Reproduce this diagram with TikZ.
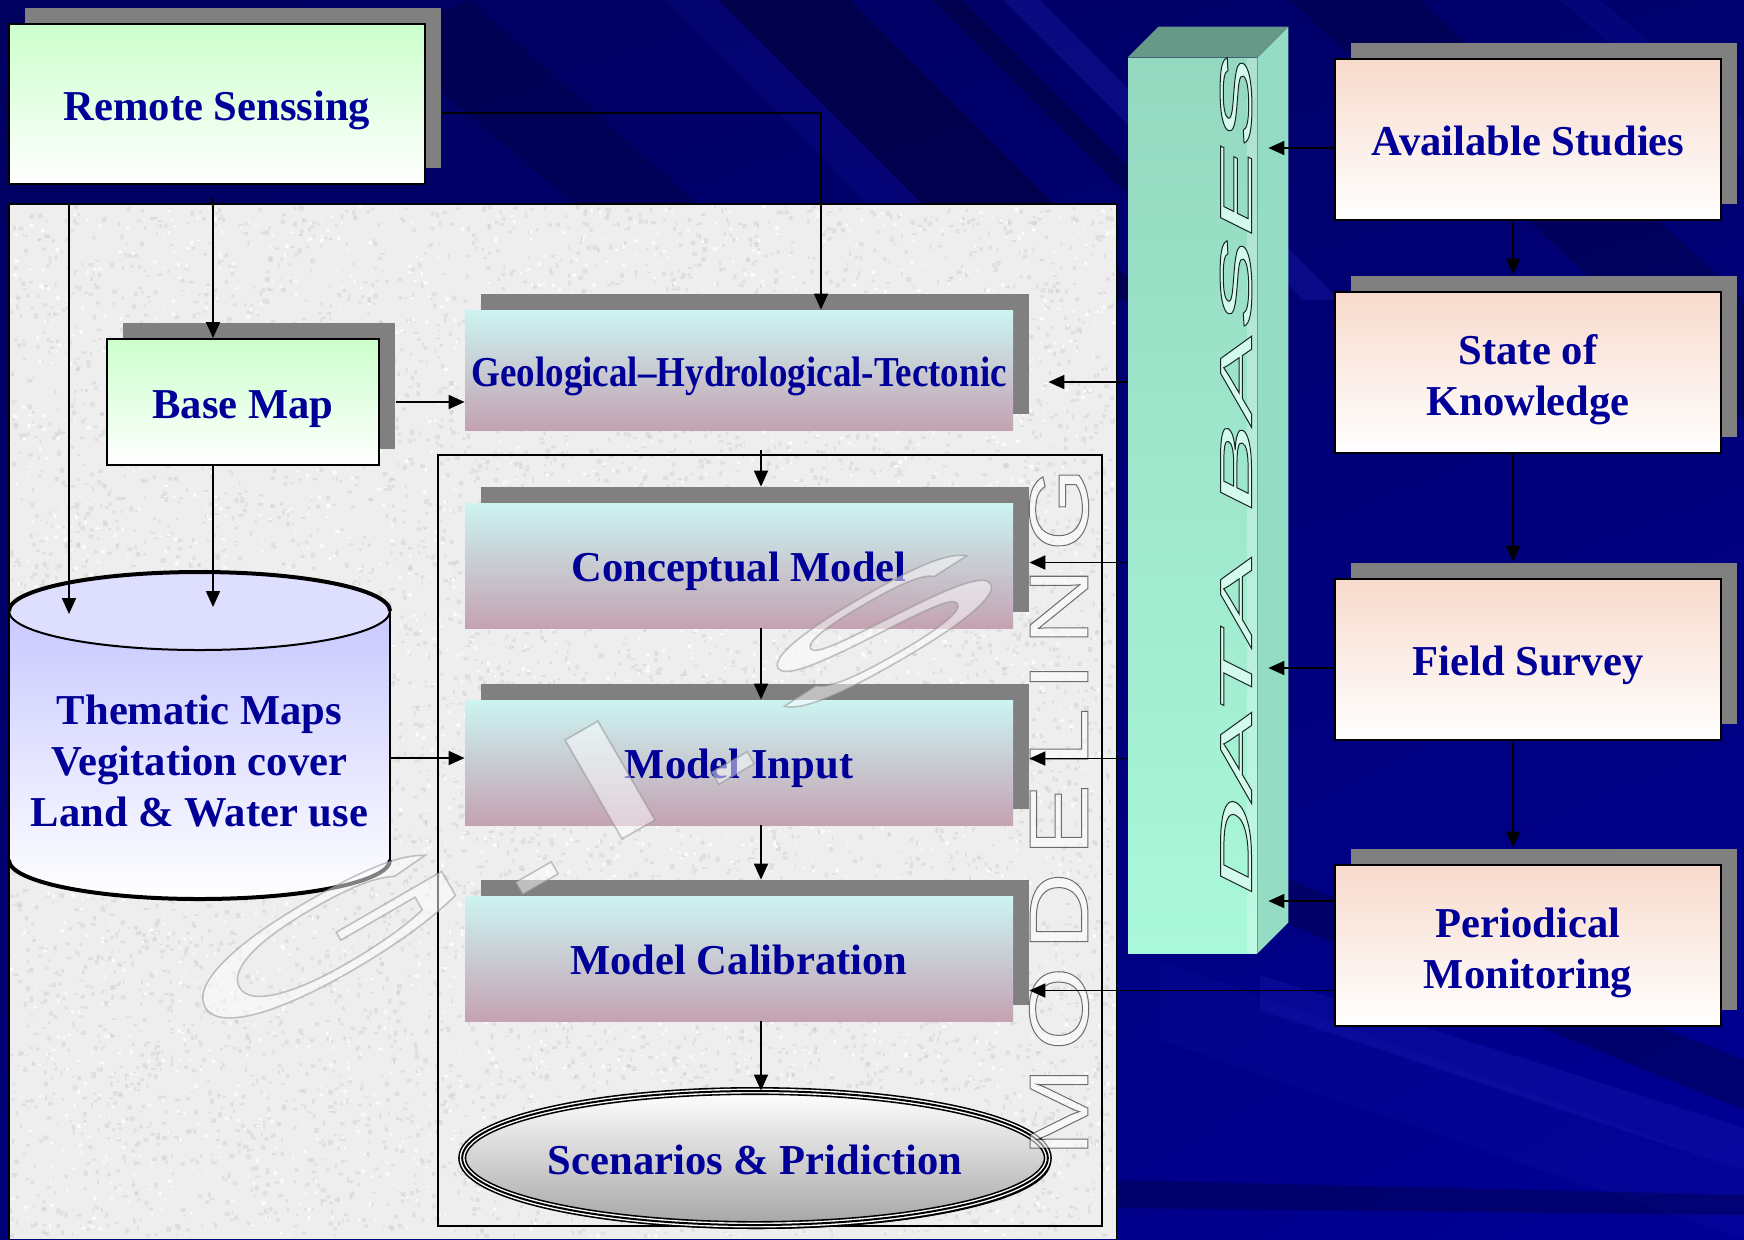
\documentclass[tikz,border=0pt]{standalone}
\usepackage{fontspec}
\setmainfont{Liberation Serif}
\newfontfamily\dbfont{Liberation Sans}[FakeSlant=0.5,FakeStretch=3.05]
\newfontfamily\modfont{Liberation Sans}[FakeStretch=1.29]
\newfontfamily\gisGfont{Liberation Sans}[FakeStretch=3.6]
\newfontfamily\gisIfont{Liberation Sans}[FakeStretch=2.45]
\newfontfamily\gisSfont{Liberation Sans}[FakeStretch=4.0]
\newfontfamily\gisDotfont{Liberation Sans}[FakeStretch=3.3]
\usetikzlibrary{arrows.meta,calc,shadows,shadings,shapes.geometric}

% glyphs filled with the current colour and stroked with colour #1 (rgb) at width #2 (bp)
\newcommand\strokeglyphs[3]{\special{pdf:literal direct #2 w #1 RG 2 Tr}#3\special{pdf:literal direct 0 Tr}}
% two or three centred lines, first line given extra head room
\newcommand\stacklines[1]{\begin{tabular}{@{}c@{}}\rule{0pt}{25.2pt}#1\end{tabular}}

\definecolor{bgUL}{RGB}{0,0,95}
\definecolor{bgUR}{RGB}{0,0,110}
\definecolor{bgLL}{RGB}{0,0,120}
\definecolor{bgLR}{RGB}{0,0,150}
\definecolor{bgdark}{RGB}{0,0,50}
\definecolor{bglight}{RGB}{40,40,200}
\definecolor{txtblue}{RGB}{0,0,153}
\definecolor{shgray}{RGB}{128,128,128}
\definecolor{greentop}{RGB}{204,255,204}
\definecolor{peachtop}{RGB}{248,218,204}
\definecolor{tealtop}{RGB}{204,244,242}
\definecolor{mauvebot}{RGB}{196,162,178}
\definecolor{lavtop}{RGB}{200,200,255}
\definecolor{lavcap}{RGB}{222,222,255}
\definecolor{dbtopface}{RGB}{102,153,136}
\definecolor{dbfront1}{RGB}{148,216,192}
\definecolor{dbfront2}{RGB}{170,248,218}
\definecolor{dbsideface}{RGB}{148,220,196}
\definecolor{dbletter}{RGB}{212,250,238}
\definecolor{panelgray}{RGB}{238,238,238}

\tikzset{
  lbl/.style={text=txtblue, font=\fontsize{21.3}{25.5}\selectfont\bfseries, inner sep=0pt,
              text height=16pt, text depth=0pt},
  lblstack/.style={text=txtblue, font=\fontsize{21.3}{25.5}\selectfont\bfseries, inner sep=0pt},
  boxshadow/.style={general shadow={fill=shgray, shadow xshift=8pt, shadow yshift=8pt}},
  greenbox/.style={boxshadow, draw=black, line width=1pt, top color=greentop, bottom color=white},
  peachbox/.style={boxshadow, draw=black, line width=1pt, top color=peachtop, bottom color=white,
                   minimum width=193pt, minimum height=80.5pt},
  tealbox/.style={lbl, boxshadow, top color=tealtop, bottom color=mauvebot,
                  minimum width=274pt, minimum height=62.5pt},
  arr/.style={line width=0.9pt, -{Triangle[length=8pt,width=7pt]}},
  wordart/.style={inner sep=0pt},
}

\begin{document}
\begin{tikzpicture}[x=0.5pt,y=-0.5pt]
\useasboundingbox (0,0) rectangle (1744,1239);

% ---------- background ----------
\shade[upper left=bgUL, upper right=bgUR, lower left=bgLL, lower right=bgLR] (0,0) rectangle (1744,1239);
\fill[bgdark, opacity=0.5] (718,0) -- (850,0) -- (1150,300) -- (1018,300) -- cycle;
\fill[bgdark, opacity=0.45] (932,0) -- (962,0) -- (1262,300) -- (1232,300) -- cycle;
\fill[bglight, opacity=0.25] (1003,0) -- (1040,0) -- (1340,300) -- (1303,300) -- cycle;
\fill[bglight, opacity=0.12] (664,0) -- (718,0) -- (1018,300) -- (964,300) -- cycle;
\fill[bgdark, opacity=0.3] (380,40) -- (470,0) -- (760,260) -- (640,260) -- cycle;
\fill[bgdark, opacity=0.35] (1290,0) -- (1420,0) -- (1744,300) -- (1744,420) -- cycle;
\fill[bglight, opacity=0.15] (1560,0) -- (1600,0) -- (1744,120) -- (1744,160) -- cycle;
\fill[bgdark, opacity=0.35] (1130,860) -- (1290,880) -- (1744,1060) -- (1744,1110) -- cycle;
\fill[bglight, opacity=0.22] (1260,975) -- (1744,1128) -- (1744,1170) -- (1260,1010) -- cycle;
\fill[bglight, opacity=0.10] (1160,960) -- (1744,1170) -- (1744,1239) -- (1160,1040) -- cycle;
\fill[bgdark, opacity=0.35] (1116,1180) -- (1744,1195) -- (1744,1215) -- (1116,1208) -- cycle;

% ---------- textured panel ----------
\node[fill=panelgray, minimum width=553.5pt, minimum height=517.5pt, inner sep=0pt, anchor=north west]
  (panel) at (9,204) {};
\pgfmathsetseed{4242}
\foreach \chunk in {1,...,4}{
  \fill[black!25, opacity=0.3] \foreach \k in {1,...,1800}
    {({9+1103*rnd},{205+1030*rnd}) rectangle ++({1.5+3.5*rnd},{1.5+3.5*rnd})};
}
\foreach \chunk in {1,2}{
  \fill[white, opacity=0.8] \foreach \k in {1,...,1500}
    {({9+1103*rnd},{205+1030*rnd}) rectangle ++({1+3*rnd},{1+3*rnd})};
}
\draw[line width=1pt] (panel.south west) -- (panel.north west) -- (panel.north east);
\draw[line width=0.5pt] (panel.north east) -- (panel.south east);

% modelling frame
\node[draw, line width=0.8pt, minimum width=332pt, minimum height=385.5pt, inner sep=0pt, anchor=north west]
  (frame) at (437,454) {};

% ---------- boxes ----------
\node[lbl, greenbox, minimum width=208pt, minimum height=80pt] (rs) at (217,104) {Remote Senssing};
\node[lbl, greenbox, minimum width=136pt, minimum height=63pt] (bm) at (243,402) {Base Map};

\node[tealbox, minimum height=60pt] (geo) at (739,370)
  {\scalebox{0.87}[1]{Geological–Hydrological-Tectonic}};
\node[tealbox] (conc) at (739,565.5) {Conceptual Model};
\node[tealbox] (mi) at (739,762.5) {Model Input};
\node[tealbox] (mc) at (739,958.5) {Model Calibration};

\node[lbl, ellipse, minimum width=291pt, minimum height=67pt, top color=white, bottom color=black!35,
      general shadow={fill=black, shadow xshift=1.5pt, shadow yshift=-2pt},
      postaction={draw, line width=4pt},
      postaction={draw=white, line width=2.4pt},
      postaction={draw, line width=1pt}] (scen) at (755,1158) {Scenarios \& Pridiction};

% thematic maps cylinder
\fill[top color=lavtop, bottom color=white]
  (9,611) -- (9,860) arc[start angle=180, end angle=0, x radius=190.5, y radius=39] -- (390,611) -- cycle;
\draw[line width=1pt] (9,611) -- (9,860);
\draw[line width=1pt] (390,860) -- (390,611);
\draw[line width=2pt] (9,860) arc[start angle=180, end angle=0, x radius=190.5, y radius=39];
\filldraw[fill=lavcap, line width=1pt] (199.5,611) ellipse[x radius=190.5, y radius=39];
\draw[line width=2pt] (9,611) arc[start angle=180, end angle=360, x radius=190.5, y radius=39];
\node[lblstack, minimum width=190.5pt] (thm) at (199.5,758)
  {\stacklines{Thematic Maps\\Vegitation cover\\Land \& Water use}};

% data bases column
\node[minimum width=64.5pt, minimum height=447.5pt, inner sep=0pt, top color=dbfront1, bottom color=dbfront2]
  (db) at (1192.5,505.5) {};
\fill[dbsideface] (db.north east) -- ++(31,-31) -- ($(db.south east)+(31,-31)$) -- (db.south east) -- cycle;
\fill[dbtopface] (db.north west) -- ++(31,-31) -- ($(db.north east)+(31,-31)$) -- (db.north east) -- cycle;
\fill[white, opacity=0.25] ($(db.north east)+(-10,0)$) rectangle (db.south east);

% right column
\node[lbl, peachbox] (as) at (1528,139) {Available Studies};
\node[lblstack, peachbox] (sk) at (1528,372) {\stacklines{State of\\Knowledge}};
\node[lbl, peachbox] (fs) at (1528,659) {Field Survey};
\node[lblstack, peachbox] (pm) at (1528,945) {\stacklines{Periodical\\Monitoring}};

% ---------- lettering ----------
\node[wordart, rotate=90, text=dbletter] (dbt) at (1236,482)
  {\dbfont\fontsize{22.5}{22.5}\selectfont\strokeglyphs{0.1 0.15 0.12}{0.5}{DATA BASES}};
\node[wordart, rotate=90, text=white, text opacity=0.55] (modt) at (1059,812)
  {\modfont\fontsize{42}{42}\selectfont\strokeglyphs{0 0 0}{0.5}{M\kern8pt O\kern8pt D\kern8pt E\kern8pt L\kern8pt I\kern8pt N\kern8pt G}};

% G.I.S watermark
\begin{scope}[every node/.style={wordart, rotate=30, text=white, text opacity=0.5}]
\node (gisG) at (328,937) {\gisGfont\fontsize{58}{58}\selectfont\strokeglyphs{0.55 0.55 0.55}{0.8}{G}};
\node (gisDa) at (537,878) {\gisDotfont\fontsize{65}{65}\selectfont\strokeglyphs{0.55 0.55 0.55}{0.8}{.}};
\node (gisI) at (610,780) {\gisIfont\fontsize{83}{83}\selectfont\strokeglyphs{0.55 0.55 0.55}{0.8}{I}};
\node (gisDb) at (733,768) {\gisDotfont\fontsize{65}{65}\selectfont\strokeglyphs{0.55 0.55 0.55}{0.8}{.}};
\node (gisS) at (879,630) {\gisSfont\fontsize{52}{52}\selectfont\strokeglyphs{0.55 0.55 0.55}{0.8}{S}};
\end{scope}

% ---------- connectors ----------
\coordinate (rsE) at ($(rs.east)+(16,9)$);
\coordinate (rsS) at ($(rs.south)+(0,13)$);
\coordinate (bmN) at ($(bm.north)+(-30,0)$);
\coordinate (bmE) at ($(bm.east)+(16,0)$);
\coordinate (capL) at (69,614);
\coordinate (capM) at (213,607);
\coordinate (geoS) at ($(geo.south)+(22,20)$);
\coordinate (concN) at ($(conc.north)+(22,-16)$);
\coordinate (geoR) at ($(geo.east)+(35,12)$);
\coordinate (concR) at ($(conc.east)+(16,-3)$);
\coordinate (miR) at ($(mi.east)+(16,-4)$);
\coordinate (mcR) at ($(mc.east)+(16,32)$);
\coordinate (dbR) at ($(db.east)+(11,0)$);
\coordinate (asW) at ($(as.west)+(0,9)$);
\coordinate (fsW) at ($(fs.west)+(0,9)$);
\coordinate (pmW) at ($(pm.west)+(0,-44)$);

\draw[arr] (rsE) -| ($(geo.north)+(82,0)$);
\draw[arr] (rsS -| bmN) -- (bmN);
\draw[arr] (panel.north -| capL) -- (capL);
\draw[arr] (bm.south -| capM) -- (capM);
\draw[arr] (bmE) -- (bmE -| geo.west);
\draw[arr] (thm.east) -- (thm.east -| mi.west);

\draw[arr] (geoS) -- (concN);
\draw[arr] ($(conc.south)+(22,0)$) -- ($(mi.north)+(22,0)$);
\draw[arr] ($(mi.south)+(22,0)$) -- ($(mc.north)+(22,-16)$);
\draw[arr] ($(mc.south)+(22,0)$) -- ($(scen.north)+(6,0)$);

\draw[arr] (db.west |- geoR) -- (geoR);
\draw[arr] (db.west |- concR) -- (concR);
\draw[arr] (db.west |- miR) -- (miR);
\draw[arr] (pm.west |- mcR) -- (mcR);

\draw[arr] (asW) -- (asW -| dbR);
\draw[arr] (fsW) -- (fsW -| dbR);
\draw[arr] (pmW) -- (pmW -| dbR);

\draw[arr] ($(as.south)+(-15,0)$) -- ($(sk.north)+(-15,-16)$);
\draw[arr] ($(sk.south)+(-15,0)$) -- ($(fs.north)+(-15,-16)$);
\draw[arr] ($(fs.south)+(-15,0)$) -- ($(pm.north)+(-15,-16)$);
\end{tikzpicture}
\end{document}
